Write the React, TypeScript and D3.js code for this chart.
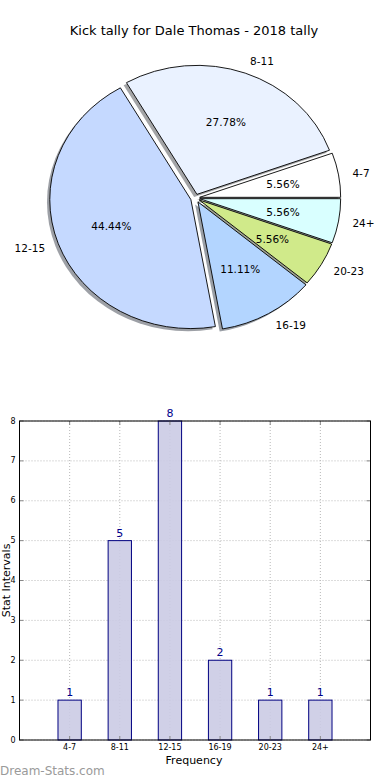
import React from "react";
import * as d3 from "d3";

const categories = ["4-7", "8-11", "12-15", "16-19", "20-23", "24+"];
const counts = [1, 5, 8, 2, 1, 1];
const sliceColors = ["#ffffff", "#eaf2ff", "#c5d9ff", "#b3d5ff", "#d0ea8a", "#d9ffff"];
const explode = [0.03, 0.03, 0.035, 0.035, 0.03, 0.03];
const yTicks = [0, 1, 2, 3, 4, 5, 6, 7, 8];

const title = "Kick tally for Dale Thomas - 2018 tally";
const font = "DejaVu Sans, sans-serif";

// pie geometry (elliptical, like an unequal-aspect matplotlib axes)
const pieCx = 195.5;
const pieCy = 198;
const rx = 141;
const ry = 129;

// bar chart frame
const frame = { left: 19.5, right: 370.5, top: 421, bottom: 740 };

const App = () => {
  const total = d3.sum(counts);
  // angles counterclockwise from 3 o'clock, as matplotlib does
  const slices = d3
    .pie<number>()
    .sort(null)
    .startAngle(0)
    .endAngle(2 * Math.PI)(counts);

  const arc = d3.arc<any>().innerRadius(0).outerRadius(1);

  const x = d3.scaleLinear().domain([-1, 6]).range([frame.left, frame.right]);
  const y = d3.scaleLinear().domain([0, 8]).range([frame.bottom, frame.top]);
  const barW = x(0.465) - x(0);

  return (
    <svg width={390} height={780} style={{ position: "absolute", left: 0, top: 0 }} fontFamily={font}>
      <rect width={390} height={780} fill="#fff" />
      <text x={194} y={30} textAnchor="middle" dominantBaseline="central" fontSize={13}>
        {title}
      </text>

      {/* shadows first */}
      {slices.map((s, i) => {
        const mid = (s.startAngle + s.endAngle) / 2;
        const ox = pieCx + explode[i] * rx * Math.cos(mid) - 2.8;
        const oy = pieCy - explode[i] * ry * Math.sin(mid) + 2.6;
        const c = d3.rgb(sliceColors[i]);
        const sh = d3.rgb(0.15 * c.r + 127.5, 0.15 * c.g + 127.5, 0.15 * c.b + 127.5);
        return (
          <path
            key={"sh" + i}
            d={arc({ startAngle: Math.PI / 2 - s.endAngle, endAngle: Math.PI / 2 - s.startAngle })!}
            transform={`translate(${ox},${oy}) scale(${rx},${ry})`}
            fill={sh.toString()}
            stroke="none"
          />
        );
      })}
      {slices.map((s, i) => {
        const mid = (s.startAngle + s.endAngle) / 2;
        const ox = pieCx + explode[i] * rx * Math.cos(mid);
        const oy = pieCy - explode[i] * ry * Math.sin(mid);
        return (
          <path
            key={"sl" + i}
            d={arc({ startAngle: Math.PI / 2 - s.endAngle, endAngle: Math.PI / 2 - s.startAngle })!}
            transform={`translate(${ox},${oy}) scale(${rx},${ry})`}
            fill={sliceColors[i]}
            stroke="#000"
            strokeWidth={0.9}
            vectorEffect="non-scaling-stroke"
            strokeLinejoin="round"
          />
        );
      })}
      {slices.map((s, i) => {
        const mid = (s.startAngle + s.endAngle) / 2;
        const ox = pieCx + explode[i] * rx * Math.cos(mid);
        const oy = pieCy - explode[i] * ry * Math.sin(mid);
        const lx = ox + 1.1 * rx * Math.cos(mid);
        const ly = oy - 1.1 * ry * Math.sin(mid);
        const px = ox + 0.6 * rx * Math.cos(mid);
        const py = oy - 0.6 * ry * Math.sin(mid);
        return (
          <g key={"lb" + i} fontSize={10.5}>
            <text x={lx} y={ly} textAnchor={Math.cos(mid) > 0 ? "start" : "end"} dominantBaseline="central">
              {categories[i]}
            </text>
            <text x={px} y={py} textAnchor="middle" dominantBaseline="central">
              {((counts[i] / total) * 100).toFixed(2) + "%"}
            </text>
          </g>
        );
      })}

      {/* bar chart grid */}
      {yTicks.map((t) => (
        <line key={"gy" + t} x1={frame.left} x2={frame.right} y1={y(t)} y2={y(t)} stroke="#b8b8b8" strokeDasharray="1,2" />
      ))}
      {categories.map((c, i) => (
        <line key={"gx" + c} x1={x(i)} x2={x(i)} y1={frame.top} y2={frame.bottom} stroke="#b8b8b8" strokeDasharray="1,2" />
      ))}

      {counts.map((v, i) => (
        <g key={"bar" + i}>
          <rect
            x={x(i) - barW / 2}
            y={y(v)}
            width={barW}
            height={y(0) - y(v)}
            fill="#cbcbe4"
            fillOpacity={0.9}
            stroke="#000080"
            strokeWidth={1}
          />
          <text x={x(i)} y={y(v) - 4} textAnchor="middle" fontSize={11} fill="#00008b">
            {v}
          </text>
        </g>
      ))}

      {/* ticks, inward on all sides */}
      {yTicks.map((t) => (
        <g key={"ty" + t} stroke="#888">
          <line x1={frame.left} x2={frame.left + 4} y1={y(t)} y2={y(t)} />
          <line x1={frame.right - 4} x2={frame.right} y1={y(t)} y2={y(t)} />
        </g>
      ))}
      {categories.map((c, i) => (
        <g key={"tx" + c} stroke="#888">
          <line x1={x(i)} x2={x(i)} y1={frame.bottom} y2={frame.bottom - 4} />
          <line x1={x(i)} x2={x(i)} y1={frame.top} y2={frame.top + 4} />
        </g>
      ))}

      <rect
        x={frame.left}
        y={frame.top}
        width={frame.right - frame.left}
        height={frame.bottom - frame.top}
        fill="none"
        stroke="#000"
        strokeWidth={1}
      />

      {yTicks.map((t) => (
        <text key={"ly" + t} x={frame.left - 4} y={y(t)} textAnchor="end" dominantBaseline="central" fontSize={8}>
          {t}
        </text>
      ))}
      {categories.map((c, i) => (
        <text key={"lx" + c} x={x(i)} y={747.5} textAnchor="middle" dominantBaseline="central" fontSize={8}>
          {c}
        </text>
      ))}

      <text x={194} y={760} textAnchor="middle" dominantBaseline="central" fontSize={11}>
        Frequency
      </text>
      <text
        transform={`translate(6,${(frame.top + frame.bottom) / 2}) rotate(-90)`}
        textAnchor="middle"
        dominantBaseline="central"
        fontSize={11}
      >
        Stat Intervals
      </text>

      <text x={0} y={771} dominantBaseline="central" fontSize={12} fill="#9a9a9a">
        Dream-Stats.com
      </text>
    </svg>
  );
};

export default App;
